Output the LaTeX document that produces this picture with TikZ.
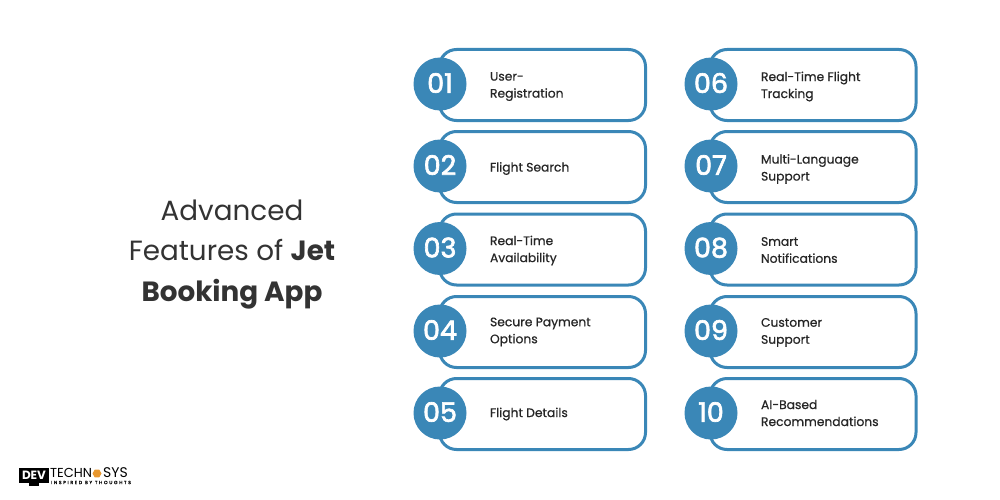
\documentclass[tikz,border=0pt]{standalone}
\usepackage{fontspec}
\setmainfont{Poppins}
\newfontfamily\itemfont[RawFeature={embolden=0.6}]{Poppins}
\newfontfamily\numfont[RawFeature={embolden=2.4}]{Poppins}
\newfontfamily\tagfont[LetterSpace=36,RawFeature={embolden=1}]{Poppins}
\usetikzlibrary{shapes.geometric}
\definecolor{itemblue}{HTML}{3A87B7}
\definecolor{inkgrey}{HTML}{333333}
\definecolor{logoorange}{HTML}{E8972E}
\tikzset{
  itembox/.style={draw=itemblue,line width=3pt,rounded corners=17pt,minimum width=206pt,minimum height=71pt,fill=white},
  numdisc/.style={circle,fill=itemblue,minimum size=53pt,inner sep=0pt,text depth=2pt,text=white,font=\fontsize{27}{27}\numfont},
  itemtext/.style={anchor=west,align=left,text=black!85,font=\fontsize{12.3}{17}\itemfont},
  titletext/.style={align=center,text=inkgrey,font=\fontsize{27.8}{40.5}\selectfont},
}
\begin{document}
\begin{tikzpicture}[x=1pt,y=-1pt]
  \useasboundingbox (0,0) rectangle (1000,500);
  \node[titletext] (title) at (232,254.5) {Advanced\\Features of \textbf{Jet}\\\textbf{Booking App}};

  % left column
  \node[itembox] (box1) at (542.5,85) {};
  \node[numdisc] (num1) at (440,84) {01};
  \node[itemtext] (text1) at (486.5,86.5) {User-\\Registration};
  \node[itembox] (box2) at (542.5,167) {};
  \node[numdisc] (num2) at (440,166) {02};
  \node[itemtext] (text2) at (486.5,168.5) {Flight Search};
  \node[itembox] (box3) at (542.5,249.5) {};
  \node[numdisc] (num3) at (440,248.5) {03};
  \node[itemtext] (text3) at (486.5,250.5) {Real-Time\\Availability};
  \node[itembox] (box4) at (542.5,332) {};
  \node[numdisc] (num4) at (440,331) {04};
  \node[itemtext] (text4) at (486.5,332) {Secure Payment\\Options};
  \node[itembox] (box5) at (542.5,414) {};
  \node[numdisc] (num5) at (440,413) {05};
  \node[itemtext] (text5) at (486.5,414) {Flight Details};

  % right column
  \node[itembox] (box6) at (813,85) {};
  \node[numdisc] (num6) at (711,84) {06};
  \node[itemtext] (text6) at (757.5,86.5) {Real-Time Flight\\Tracking};
  \node[itembox] (box7) at (813,167) {};
  \node[numdisc] (num7) at (711,166) {07};
  \node[itemtext] (text7) at (757.5,169) {Multi-Language\\Support};
  \node[itembox] (box8) at (813,249.5) {};
  \node[numdisc] (num8) at (711,248.5) {08};
  \node[itemtext] (text8) at (757.5,250) {Smart\\Notifications};
  \node[itembox] (box9) at (813,332) {};
  \node[numdisc] (num9) at (711,331) {09};
  \node[itemtext] (text9) at (757.5,332.5) {Customer\\Support};
  \node[itembox] (box10) at (813,414) {};
  \node[numdisc] (num10) at (711,413) {10};
  \node[itemtext] (text10) at (757.5,413) {AI-Based\\Recommendations};

  % logo
  \fill[black] (19,467.5) rectangle (49,483);
  \fill[black] (29,483) rectangle (39,486);
  \node[text=white,inner sep=0pt,font=\fontsize{12}{12}\selectfont\bfseries] (logodev) at (34,475.5) {DEV};
  \node[anchor=west,inner sep=0pt,text=black,font=\fontsize{13}{13}\selectfont] (logotech) at (50,473) {TECHN};
  \node[regular polygon,regular polygon sides=6,fill=logoorange,minimum size=9pt,inner sep=0pt] (logohex) at (97,473.5) {};
  \node[anchor=west,inner sep=0pt,text=black,font=\fontsize{14}{14}\selectfont] (logosys) at (103,473) {SYS};
  \node[anchor=west,inner sep=0pt,text=black,font=\fontsize{4.6}{5}\tagfont] (logotag) at (51,482.5) {INSPIRED BY THOUGHTS};
\end{tikzpicture}
\end{document}
